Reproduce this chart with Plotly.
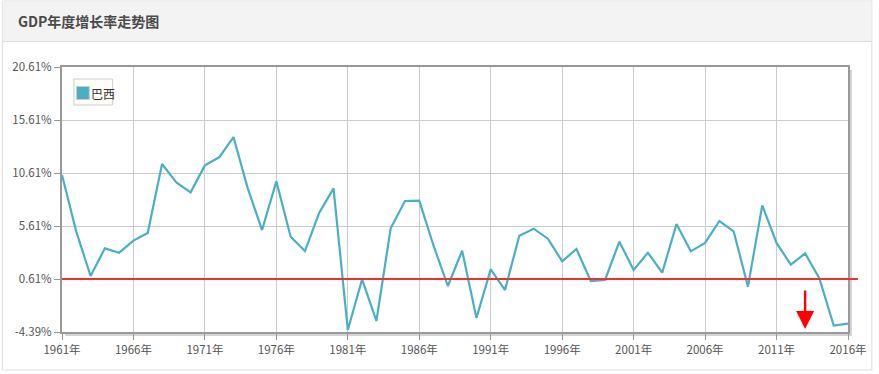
import plotly.graph_objects as go

# ---------------- data ----------------
years = list(range(1961, 2017))
growth = [10.42, 5.08, 0.89, 3.50, 3.09, 4.23, 4.95, 11.46, 9.73, 8.79,
          11.33, 12.09, 14.00, 9.16, 5.23, 9.82, 4.60, 3.25, 6.87, 9.16,
          -4.20, 0.58, -3.35, 5.39, 7.97, 8.00, 3.75, -0.05, 3.28, -3.07,
          1.52, -0.43, 4.70, 5.36, 4.41, 2.28, 3.44, 0.42, 0.52, 4.13,
          1.46, 3.09, 1.21, 5.80, 3.22, 4.01, 6.08, 5.10, -0.11, 7.56,
          4.01, 1.96, 3.03, 0.67, -3.79, -3.60]
series_name = "巴西"
x_tickvals = [1961, 1966, 1971, 1976, 1981, 1986, 1991, 1996, 2001, 2006, 2011, 2016]
x_ticktext = ["1961年", "1966年", "1971年", "1976年", "1981年", "1986年",
              "1991年", "1996年", "2001年", "2006年", "2011年", "2016年"]
y_tickvals = [-4.39, 0.61, 5.61, 10.61, 15.61, 20.61]
y_ticktext = ["-4.39%", "0.61%", "5.61%", "10.61%", "15.61%", "20.61%"]
ref_value = 0.61
arrow_year = 2013
title_text = "GDP年度增长率走势图"

# ---------------- geometry ----------------
W, H = 879, 374
L, R, T, B = 61, 852, 67, 332
PW, PH = R - L, B - T


def px(x):
    return (x - L) / PW


def py(y):
    return (B - y) / PH


LINE = "#4bafc4"
FONT = "Noto Sans CJK SC, Noto Sans, sans-serif"

fig = go.Figure()
fig.add_trace(go.Scatter(
    x=years, y=growth, mode="lines", name=series_name,
    line=dict(color=LINE, width=2.2), showlegend=False,
    hovertemplate="%{x}年: %{y:.2f}%<extra></extra>"))

shapes = []
# outer panel
shapes.append(dict(type="rect", xref="paper", yref="paper",
                   x0=px(1), x1=px(876), y0=py(370), y1=py(1),
                   line=dict(color="#dddddd", width=1), fillcolor="white", layer="below"))
# header
shapes.append(dict(type="rect", xref="paper", yref="paper",
                   x0=px(1.5), x1=px(875.5), y0=py(41), y1=py(1.5),
                   line=dict(width=0), fillcolor="#f3f3f3", layer="below"))
shapes.append(dict(type="line", xref="paper", yref="paper",
                   x0=px(1), x1=px(876), y0=py(41.5), y1=py(41.5),
                   line=dict(color="#dddddd", width=1), layer="below"))
# plot shadow
shapes.append(dict(type="rect", xref="paper", yref="paper",
                   x0=px(853), x1=px(856), y0=py(336), y1=py(70),
                   line=dict(width=0), fillcolor="#d4d4d4", layer="below"))
shapes.append(dict(type="rect", xref="paper", yref="paper",
                   x0=px(64), x1=px(856), y0=py(336), y1=py(333),
                   line=dict(width=0), fillcolor="#d4d4d4", layer="below"))
# reference line
shapes.append(dict(type="line", xref="paper", yref="y",
                   x0=0, x1=px(862), y0=ref_value, y1=ref_value,
                   line=dict(color="#f03030", width=2), layer="above"))
# manual legend
shapes.append(dict(type="rect", xref="paper", yref="paper",
                   x0=px(73), x1=px(112), y0=py(105), y1=py(79),
                   line=dict(color="#cccccc", width=1), fillcolor="#fffdf8", layer="above"))
shapes.append(dict(type="rect", xref="paper", yref="paper",
                   x0=px(75.5), x1=px(88.5), y0=py(99.5), y1=py(86.5),
                   line=dict(color="#cccccc", width=1), fillcolor=LINE, layer="above"))

annotations = [
    dict(text=f"<b>{title_text}</b>", xref="paper", yref="paper",
         x=px(15), y=py(21), xanchor="left", yanchor="middle", showarrow=False,
         font=dict(family=FONT, size=14, color="#4a4a4a")),
    dict(text=series_name, xref="paper", yref="paper",
         x=px(88.5), y=py(93), xanchor="left", yanchor="middle", showarrow=False,
         font=dict(family=FONT, size=12, color="#333333")),
    dict(text="", x=arrow_year, xref="x", y=py(329), yref="paper",
         showarrow=True, ax=0, ay=-40, arrowhead=2, arrowsize=1.5,
         arrowwidth=2.4, arrowcolor="#ff0000"),
]

fig.update_layout(
    width=W, height=H,
    margin=dict(l=L, r=W - R, t=T, b=H - B, pad=0),
    paper_bgcolor="white", plot_bgcolor="#fffcf4",
    font=dict(family=FONT, size=11, color="#555555"),
    shapes=shapes, annotations=annotations, showlegend=False,
    xaxis=dict(range=[1961, 2016], tickvals=x_tickvals, ticktext=x_ticktext,
               showgrid=True, gridcolor="#cccccc", gridwidth=1,
               showline=True, linecolor="#999999", linewidth=2, mirror=True,
               ticks="outside", ticklen=6, tickcolor="#999999", tickwidth=1,
               zeroline=False, tickfont=dict(size=11.5, color="#555555")),
    yaxis=dict(range=[-4.39, 20.61], tickvals=y_tickvals, ticktext=y_ticktext,
               showgrid=True, gridcolor="#cccccc", gridwidth=1,
               showline=True, linecolor="#999999", linewidth=2, mirror=True,
               ticks="outside", ticklen=6, tickcolor="#999999", tickwidth=1,
               zeroline=False, tickfont=dict(size=11.5, color="#555555")),
)

fig.write_html("out.html", config={"displayModeBar": False},
               post_script="document.body.style.margin='0';")
